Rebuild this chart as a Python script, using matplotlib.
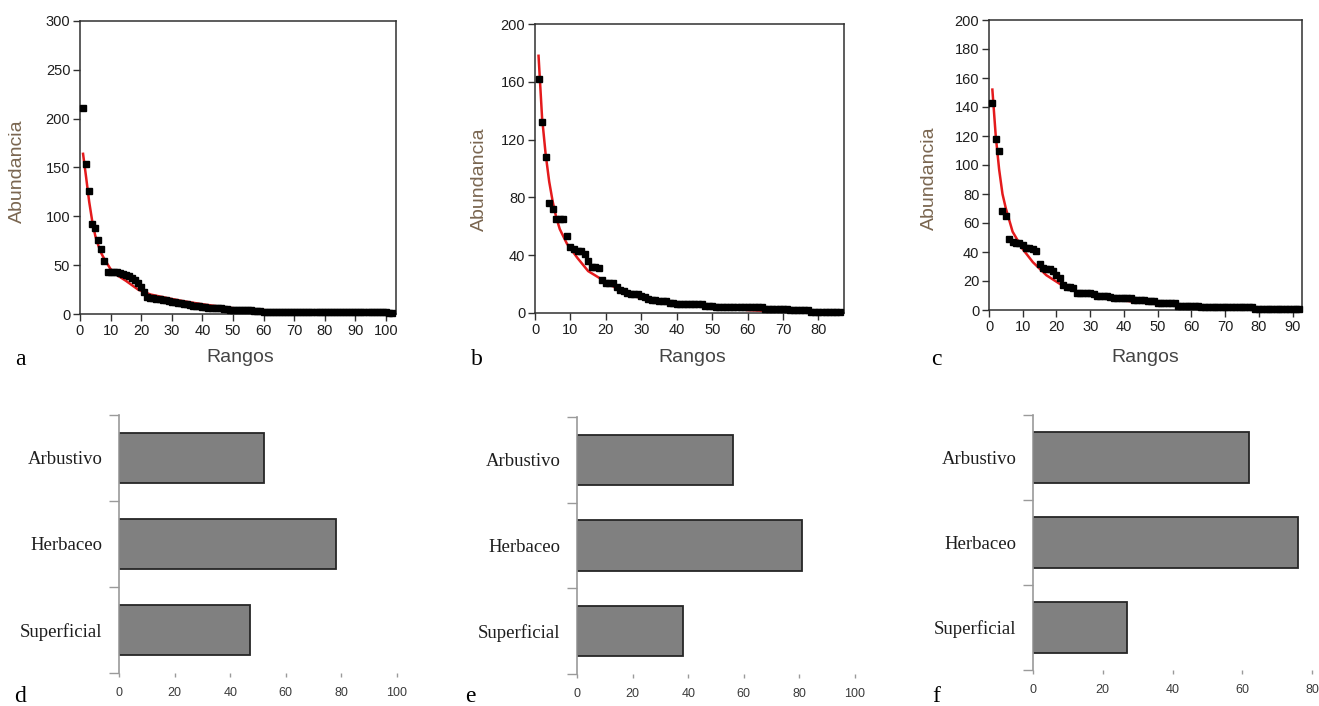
import matplotlib.pyplot as plt
import numpy as np

# rank-abundance data (a, b, c)
abund_a = [211, 154, 126, 92, 88, 76, 67, 54, 43, 43,
           43, 43, 42, 41, 40, 39, 37, 35, 32, 28,
           23, 17, 16, 16, 15, 15, 14, 14, 13, 12,
           12, 11, 11, 10, 10, 9, 8, 8, 8, 7,
           7, 6, 6, 6, 6, 6, 5, 5, 4, 4,
           4, 4, 4, 4, 4, 4, 3, 3, 3, 2,
           2, 2, 2, 2, 2, 2, 2, 2, 2, 2,
           2, 2, 2, 2, 2, 2, 2, 2, 2, 2,
           2, 2, 2, 2, 2, 2, 2, 2, 2, 2,
           2, 2, 2, 2, 2, 2, 2, 2, 2, 2,
           1, 1]
abund_b = [162, 132, 108, 76, 72, 65, 65, 65, 53, 46,
           44, 43, 43, 41, 36, 32, 32, 31, 23, 21,
           21, 21, 18, 16, 15, 14, 13, 13, 13, 12,
           11, 10, 9, 9, 8, 8, 8, 7, 7, 6,
           6, 6, 6, 6, 6, 6, 6, 5, 5, 5,
           4, 4, 4, 4, 4, 4, 4, 4, 4, 4,
           4, 4, 4, 4, 3, 3, 3, 3, 3, 3,
           3, 2, 2, 2, 2, 2, 2, 1, 1, 1,
           1, 1, 1, 1, 1, 1]
abund_c = [143, 118, 110, 68, 65, 49, 47, 46, 46, 45,
           43, 43, 42, 41, 32, 29, 28, 28, 27, 24,
           22, 17, 16, 16, 15, 12, 12, 12, 12, 12,
           11, 10, 10, 10, 10, 9, 8, 8, 8, 8,
           8, 8, 7, 7, 7, 7, 6, 6, 6, 5,
           5, 5, 5, 5, 5, 3, 3, 3, 3, 3,
           3, 3, 2, 2, 2, 2, 2, 2, 2, 2,
           2, 2, 2, 2, 2, 2, 2, 2, 1, 1,
           1, 1, 1, 1, 1, 1, 1, 1, 1, 1,
           1, 1]

# fitted model (red line), read at a few ranks
fit_rank_a = [1, 2, 3, 4, 5, 6, 7, 8, 10, 12, 15, 19, 23, 29, 34, 40, 47, 53, 60]
fit_val_a = [164, 140, 115, 95, 80, 70, 62, 56, 46, 40, 34, 25, 20, 16, 13, 10, 7, 5, 4]
fit_rank_b = [1, 2, 3, 4, 5, 6, 7, 9, 12, 15, 19, 23, 29, 34, 40, 47, 53, 60, 65, 71]
fit_val_b = [178, 135, 110, 91, 77, 66, 58, 48, 38, 29, 23, 17, 11, 9, 7, 5, 4, 2, 1.5, 0.5]
fit_rank_c = [1, 2, 3, 4, 5, 7, 10, 13, 17, 21, 27, 33, 40, 50, 56]
fit_val_c = [152, 120, 97, 80, 70, 54, 42, 33, 24, 18, 12, 9, 6.5, 4, 3]

# strata bars (d, e, f), bottom to top
strata = ['Superficial', 'Herbaceo', 'Arbustivo']
strata_d = [47, 78, 52]
strata_e = [38, 81, 56]
strata_f = [27, 76, 62]

W, H = 1319, 706
fig = plt.figure(figsize=(W / 100, H / 100), dpi=100)


def px_axes(l, t, r, b):
    return fig.add_axes([l / W, 1 - b / H, (r - l) / W, (b - t) / H])


def rank_panel(box, vals, fr, fv, xmax, ymax, ystep, xlab_x, ylab_x, ylab_y, letter, letter_x):
    ax = px_axes(*box)
    ranks = np.arange(1, len(vals) + 1)
    ax.plot(fr, fv, color='#e41a1c', lw=1.8, zorder=2)
    ax.plot(ranks, vals, 's', color='black', ms=3.8, zorder=3, clip_on=False)
    ax.set_xlim(0, xmax)
    ax.set_ylim(0, ymax)
    ax.set_xticks(np.arange(0, xmax, 10))
    ax.set_yticks(np.arange(0, ymax + 1, ystep))
    for s in ax.spines.values():
        s.set_color('#303030')
        s.set_linewidth(1.1)
    ax.tick_params(direction='out', length=5, width=1, color='#303030',
                   labelsize=10.5, labelcolor='#1e1e1e', pad=2)
    for lab in ax.get_xticklabels() + ax.get_yticklabels():
        lab.set_fontfamily('Liberation Sans')
    fig.text(xlab_x / W, 1 - 358 / H, 'Rangos', ha='center', va='center',
             fontsize=14, color='#444444', family='Liberation Sans')
    fig.text(ylab_x / W, 1 - ylab_y / H, 'Abundancia', ha='center', va='center',
             rotation=90, fontsize=14, color='#7a6650', family='Liberation Sans')
    fig.text(letter_x / W, 1 - 365 / H, letter, ha='center', va='baseline',
             fontsize=17, color='black', family='Liberation Serif')
    return ax


def bar_panel(box, vals, xmax, letter, letter_x):
    ax = px_axes(*box)
    ax.barh(range(len(strata)), vals, height=0.59, color='#808080',
            edgecolor='#262626', linewidth=1.3)
    ax.set_ylim(-0.5, len(strata) - 0.5)
    ax.set_xlim(0, xmax)
    ax.set_xticks(np.arange(0, xmax + 1, 20))
    ax.set_yticks(range(len(strata)))
    ax.set_yticklabels(strata, family='Liberation Serif', fontsize=13.5, color='#1e1e1e')
    ax.set_yticks(np.arange(-0.5, len(strata)), minor=True)
    ax.tick_params(axis='y', which='major', length=0, pad=12)
    ax.tick_params(axis='y', which='minor', length=7, width=1, color='#9a9a9a')
    ax.tick_params(axis='x', length=3, width=1, color='#9a9a9a', labelsize=9,
                   labelcolor='#3a3a3a', pad=7)
    for lab in ax.get_xticklabels():
        lab.set_fontfamily('Liberation Sans')
    for k in ['top', 'right', 'bottom']:
        ax.spines[k].set_visible(False)
    ax.spines['left'].set_color('#9a9a9a')
    ax.spines['left'].set_linewidth(1.2)
    fig.text(letter_x / W, 1 - 702 / H, letter, ha='center', va='baseline',
             fontsize=17, color='black', family='Liberation Serif')
    return ax


rank_panel((80, 21, 396, 314), abund_a, fit_rank_a, fit_val_a, 103.3, 300, 50,
           240, 17, 171, 'a', 20)
rank_panel((535, 24, 844, 313), abund_b, fit_rank_b, fit_val_b, 87.2, 200, 40,
           692, 479, 179, 'b', 477)
rank_panel((989, 20, 1302, 310), abund_c, fit_rank_c, fit_val_c, 92.8, 200, 20,
           1145, 929, 178, 'c', 936)

bar_panel((119, 415, 397, 673), strata_d, 100, 'd', 20)
bar_panel((577, 417, 855, 674), strata_e, 100, 'e', 470)
bar_panel((1033, 415, 1312, 670), strata_f, 80, 'f', 936)

fig.savefig('out.png', dpi=100)
